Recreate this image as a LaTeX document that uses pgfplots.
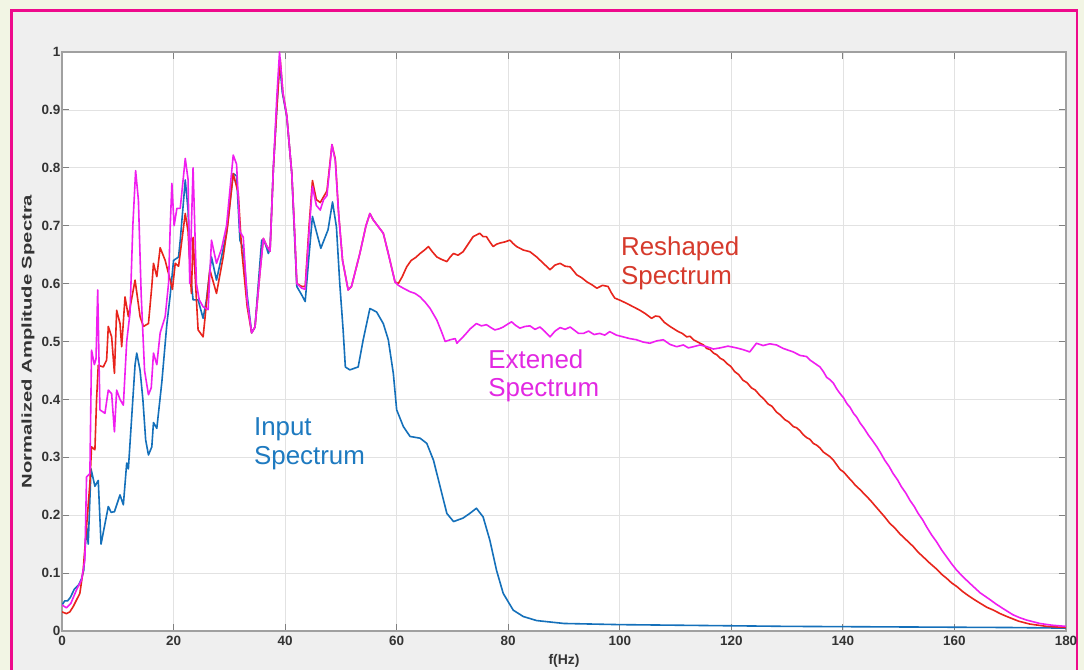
\documentclass[border=0pt]{standalone}
\usepackage{pgfplots}
\pgfplotsset{compat=1.18}
\usepackage{fontspec}
\setmainfont{Liberation Sans}
\newfontfamily\ylabfont[FakeStretch=1.45]{Liberation Sans}

\definecolor{pagecream}{HTML}{F2F5E4}
\definecolor{framepink}{HTML}{EE0A8C}
\definecolor{figgray}{HTML}{EFEFEF}
\definecolor{gridgray}{HTML}{E2E2E2}
\definecolor{axisgray}{HTML}{A0A0A0}
\definecolor{ticktext}{HTML}{333333}
\definecolor{inputblue}{RGB}{20,112,186}
\definecolor{reshapered}{RGB}{232,36,28}
\definecolor{extmag}{RGB}{240,30,240}
\definecolor{inputtxt}{RGB}{30,122,192}
\definecolor{reshapetxt}{RGB}{214,58,44}
\definecolor{exttxt}{RGB}{226,40,226}

\begin{document}
\begin{tikzpicture}
\useasboundingbox (0bp,0bp) rectangle (1084bp,670bp);
\fill[pagecream] (0bp,0bp) rectangle (1084bp,670bp);
\fill[figgray] (11.5bp,-5bp) rectangle (1077bp,659.5bp);
\draw[framepink, line width=2.2bp] (11.5bp,-5bp) rectangle (1077bp,659.5bp);

\begin{axis}[
  at={(62bp,39bp)}, anchor=south west,
  scale only axis, width=1004bp, height=579bp,
  xmin=0, xmax=180, ymin=0, ymax=1,
  xtick={0,20,40,60,80,100,120,140,160,180},
  xticklabels={0,20,40,60,80,100,120,140,160,180},
  ytick={0,0.1,0.2,0.3,0.4,0.5,0.6,0.7,0.8,0.9,1},
  yticklabels={0,0.1,0.2,0.3,0.4,0.5,0.6,0.7,0.8,0.9,1},
  tick align=inside, major tick length=7bp,
  grid=major, grid style={color=gridgray, line width=0.7bp},
  axis line style={color=axisgray, line width=1.4bp},
  tick style={color=axisgray!80!black, line width=0.9bp},
  axis background/.style={fill=white},
  ticklabel style={font=\fontsize{13.5}{15}\selectfont\bfseries, text=ticktext},
  yticklabel style={inner sep=1.5bp},
  xticklabel style={inner sep=1bp, yshift=-4bp},
  xlabel={f(Hz)},
  xlabel style={at={(axis description cs:0.5,-0.0518)}, anchor=center,
    font=\fontsize{14}{16}\selectfont\bfseries, text=ticktext},
  ylabel={Normalized Amplitude Spectra},
  ylabel style={at={(axis description cs:-0.0339,0.5)}, anchor=center,
    font=\ylabfont\fontsize{14}{16}\selectfont\bfseries, text=ticktext},
  clip=true,
]

% input spectrum
\addplot[inputblue, line width=1.6bp, line join=round] coordinates {
(0,0.045) (0.5,0.052) (1,0.052) (1.5,0.058) (2.2,0.072) (3,0.08) (3.5,0.09)
(3.9,0.105) (4.4,0.18) (4.7,0.15) (5.2,0.28) (5.9,0.25) (6.5,0.26) (7.0,0.15)
(7.6,0.18) (8.3,0.215) (8.8,0.205) (9.4,0.206) (10.4,0.235) (11.0,0.218)
(11.6,0.29) (11.9,0.28) (12.5,0.37) (13.1,0.46) (13.4,0.48) (14.0,0.45)
(14.5,0.40) (15.0,0.33) (15.5,0.304) (16.1,0.318) (16.4,0.36) (17.0,0.35)
(17.9,0.43) (18.8,0.53) (19.4,0.58) (20.0,0.64) (20.9,0.646) (21.2,0.675)
(22.1,0.779) (22.6,0.727) (23.0,0.62) (23.5,0.572) (24.4,0.572) (25.3,0.54)
(25.9,0.572) (26.8,0.646) (27.7,0.606) (28.6,0.646) (29.5,0.687) (30.7,0.79)
(31.3,0.786) (31.9,0.675) (32.5,0.66) (33.2,0.58) (34.0,0.515) (34.6,0.525)
(35.2,0.6) (35.8,0.675) (36.4,0.67) (37.0,0.652) (37.3,0.66) (37.9,0.80)
(38.5,0.90) (39.0,0.985) (39.5,0.93) (40.3,0.888) (41.2,0.79) (41.7,0.68)
(42.1,0.595) (43.0,0.58) (43.6,0.569) (44.3,0.65) (44.9,0.716) (45.6,0.69)
(46.4,0.661) (47.7,0.693) (48.5,0.741) (49.2,0.698) (49.8,0.60) (50.4,0.52)
(50.8,0.456) (51.6,0.451) (53.1,0.456) (54.0,0.503) (55.2,0.557) (56.4,0.551)
(57.6,0.531) (58.5,0.503) (59.4,0.445) (60.0,0.382) (61.2,0.353) (62.4,0.336)
(64.2,0.333) (65.4,0.324) (66.6,0.295) (67.8,0.249) (69.0,0.203) (70.2,0.189)
(71.9,0.195) (73.1,0.203) (74.3,0.212) (75.5,0.197) (76.7,0.157) (77.9,0.105)
(79.1,0.065) (80.9,0.036) (82.7,0.025) (85.1,0.018) (90,0.013) (100,0.011)
(110,0.010) (120,0.009) (130,0.008) (140,0.0075) (150,0.007) (160,0.0065)
(170,0.006) (180,0.005)
};

% reshaped spectrum
\addplot[reshapered, line width=1.6bp, line join=round] coordinates {
(0,0.033) (0.8,0.030) (1.4,0.033) (2.0,0.042) (3.2,0.065) (3.8,0.105) (4.4,0.18)
(5.0,0.255) (5.3,0.318) (5.9,0.313) (6.2,0.40) (6.5,0.459) (7.4,0.456)
(8.0,0.468) (8.3,0.526) (8.9,0.508) (9.4,0.445) (9.8,0.554) (10.4,0.531)
(10.7,0.491) (11.3,0.577) (11.9,0.543) (13.1,0.606) (14.0,0.543) (14.6,0.526)
(15.5,0.531) (16.1,0.595) (16.4,0.635) (17.0,0.612) (17.6,0.662) (18.5,0.64)
(19.4,0.606) (19.8,0.59) (20.3,0.635) (20.9,0.63) (22.1,0.721) (22.6,0.69)
(23.2,0.583) (23.5,0.68) (24.0,0.59) (24.4,0.52) (25.3,0.508) (26.5,0.624)
(27.7,0.583) (28.9,0.646) (29.7,0.70) (30.7,0.79) (31.6,0.756) (32.2,0.66)
(33.2,0.56) (34.0,0.515) (34.6,0.525) (35.5,0.62) (36.1,0.678) (36.7,0.665)
(37.3,0.656) (37.9,0.80) (38.5,0.90) (39.1,0.99) (39.6,0.93) (40.3,0.89)
(41.2,0.79) (41.7,0.69) (42.1,0.60) (43.0,0.595) (43.6,0.595) (44.3,0.70)
(44.9,0.778) (45.6,0.745) (46.3,0.74) (46.9,0.75) (47.5,0.76) (48.4,0.84)
(49.0,0.815) (49.6,0.72) (50.3,0.64) (51.3,0.589) (51.9,0.595) (53.4,0.652)
(54.5,0.70) (55.2,0.721) (55.8,0.71) (57.6,0.687) (58.5,0.652) (59.7,0.603)
(60.3,0.600) (61.0,0.612) (61.8,0.629) (62.6,0.64) (63.4,0.645) (64.2,0.652)
(65.0,0.658) (65.7,0.664) (66.4,0.655) (67.2,0.646) (68.0,0.642) (69.0,0.638)
(69.6,0.646) (70.2,0.652) (71.0,0.649) (71.9,0.655) (72.8,0.668) (73.7,0.681)
(74.3,0.684) (74.9,0.687) (75.5,0.681) (76.1,0.681) (76.7,0.672) (77.3,0.664)
(77.9,0.668) (78.5,0.67) (79.4,0.672) (80.3,0.675) (80.9,0.669) (81.5,0.664)
(82.7,0.658) (83.9,0.655) (85.1,0.646) (86.3,0.635) (87.5,0.624) (88.4,0.632)
(89.3,0.635) (90.2,0.630) (91.1,0.629) (92.3,0.615) (93.2,0.610) (94.1,0.603)
(95.0,0.598) (95.9,0.592) (96.9,0.597) (97.9,0.595) (98.5,0.584) (99.1,0.575)
(100.1,0.571) (101.2,0.566) (102.4,0.560) (103.6,0.554) (104.6,0.548)
(105.7,0.540) (106.4,0.544) (107.1,0.543) (108.0,0.533) (109.0,0.526)
(110.5,0.517) (111.2,0.514) (112.0,0.508) (112.6,0.509) (113.2,0.503)
(114.4,0.497) (115.0,0.494) (115.6,0.488) (116.2,0.486) (116.8,0.480)
(117.4,0.477) (118.0,0.471) (118.6,0.468) (119.2,0.462) (119.9,0.457)
(120.6,0.448) (121.3,0.443) (122.1,0.433) (122.8,0.429) (123.6,0.420)
(124.3,0.416) (125.1,0.407) (125.8,0.401) (126.6,0.392) (127.3,0.388)
(128.1,0.378) (128.8,0.373) (129.6,0.365) (130.3,0.361) (131.1,0.353)
(131.7,0.351) (132.3,0.346) (132.9,0.339) (133.5,0.334) (134.1,0.331)
(134.7,0.324) (135.3,0.321) (135.9,0.316) (136.5,0.309) (137.1,0.305)
(137.7,0.301) (138.3,0.295) (138.9,0.287) (139.5,0.279) (140.2,0.274)
(141.0,0.265) (141.6,0.259) (142.2,0.252) (143.1,0.244) (144.0,0.235)
(144.9,0.226) (145.7,0.217) (146.6,0.207) (147.5,0.197) (148.4,0.186)
(149.3,0.178) (150.2,0.168) (151.4,0.157) (152.6,0.146) (153.5,0.136)
(154.4,0.128) (155.6,0.117) (156.8,0.107) (157.7,0.098) (158.6,0.091)
(159.5,0.083) (160.4,0.077) (161.5,0.068) (162.5,0.061) (163.6,0.054)
(164.6,0.048) (165.8,0.041) (167.0,0.036) (168.2,0.030) (169.4,0.025)
(171.5,0.017) (173.5,0.012) (176.5,0.008) (180,0.006)
};

% extended spectrum
\addplot[extmag, line width=1.6bp, line join=round] coordinates {
(0,0.045) (0.8,0.040) (1.6,0.048) (2.6,0.071) (3.5,0.088) (4.1,0.123)
(4.4,0.266) (5.0,0.272) (5.3,0.485) (5.8,0.46) (6.1,0.47) (6.4,0.589)
(6.8,0.382) (7.7,0.376) (8.3,0.416) (8.9,0.41) (9.4,0.344) (9.8,0.416)
(10.4,0.40) (11.0,0.39) (11.6,0.50) (12.2,0.55) (12.7,0.70) (13.2,0.795)
(13.7,0.744) (14.2,0.58) (14.8,0.45) (15.5,0.408) (16.0,0.42) (16.4,0.48)
(17.0,0.46) (17.6,0.515) (18.5,0.543) (19.1,0.60) (19.4,0.698) (19.7,0.773)
(20.1,0.70) (20.6,0.73) (21.2,0.73) (22.1,0.816) (22.6,0.78) (22.9,0.60)
(23.5,0.80) (24.1,0.60) (24.6,0.572) (25.3,0.56) (26.2,0.555) (26.8,0.675)
(27.7,0.635) (28.6,0.66) (29.5,0.70) (30.7,0.822) (31.3,0.806) (31.9,0.69)
(32.5,0.68) (33.2,0.57) (34.0,0.515) (34.6,0.525) (35.5,0.62) (36.1,0.678)
(36.7,0.665) (37.3,0.656) (37.9,0.80) (38.5,0.92) (39.0,1.0) (39.6,0.93)
(40.3,0.89) (41.2,0.79) (41.7,0.69) (42.1,0.60) (43.0,0.592) (43.6,0.590)
(44.3,0.69) (44.9,0.768) (45.6,0.735) (46.3,0.727) (46.9,0.745) (47.5,0.752)
(48.4,0.84) (49.0,0.812) (49.6,0.72) (50.3,0.64) (51.3,0.589) (51.9,0.595)
(53.4,0.652) (54.5,0.70) (55.2,0.721) (55.8,0.71) (57.6,0.687) (58.5,0.652)
(59.7,0.603) (60.3,0.597) (61.2,0.592) (62.4,0.586) (63.3,0.583) (64.2,0.577)
(65.1,0.568) (66.0,0.557) (67.2,0.537) (68.0,0.518) (68.7,0.500) (69.6,0.503)
(70.5,0.505) (70.8,0.497) (71.5,0.504) (72.2,0.511) (73.2,0.522) (74.3,0.531)
(75.2,0.527) (76.1,0.529) (76.9,0.524) (77.6,0.520) (78.4,0.522) (79.1,0.525)
(79.9,0.530) (80.6,0.534) (81.3,0.528) (82.1,0.523) (83.0,0.526) (83.9,0.527)
(84.8,0.521) (85.7,0.525) (86.6,0.517) (87.5,0.508) (88.4,0.518) (89.3,0.524)
(90.2,0.521) (91.1,0.525) (91.8,0.520) (92.6,0.514) (93.5,0.514) (94.4,0.518)
(95.4,0.512) (96.4,0.514) (97.3,0.511) (98.2,0.517) (99.4,0.511) (100.6,0.508)
(101.8,0.505) (103.0,0.503) (104.2,0.499) (105.4,0.497) (106.6,0.501)
(107.8,0.503) (109.0,0.495) (110.2,0.491) (111.4,0.494) (112.3,0.489)
(113.2,0.491) (114.4,0.494) (115.6,0.491) (116.8,0.487) (118.0,0.489)
(119.4,0.492) (120.9,0.489) (122.1,0.486) (123.3,0.482) (124.5,0.497)
(125.7,0.493) (126.9,0.496) (128.1,0.494) (129.3,0.488) (130.2,0.485)
(131.1,0.482) (132.3,0.476) (133.5,0.474) (134.1,0.468) (135.0,0.462)
(135.9,0.456) (136.5,0.448) (137.1,0.438) (137.7,0.434) (138.3,0.428)
(138.9,0.418) (139.5,0.410) (140.1,0.403) (140.7,0.393) (141.3,0.386)
(141.9,0.376) (142.5,0.369) (143.1,0.359) (143.8,0.350) (144.6,0.338)
(145.3,0.329) (146.1,0.318) (146.8,0.307) (147.5,0.295) (148.3,0.284)
(149.0,0.272) (149.8,0.261) (150.5,0.249) (151.3,0.238) (152.0,0.226)
(152.8,0.215) (153.5,0.203) (154.3,0.192) (155.0,0.180) (155.9,0.166)
(156.8,0.154) (157.7,0.140) (158.6,0.128) (159.5,0.116) (160.4,0.105)
(161.6,0.093) (162.8,0.082) (163.7,0.074) (164.6,0.066) (165.5,0.060)
(166.4,0.054) (167.4,0.047) (168.5,0.040) (169.5,0.034) (170.5,0.028)
(171.7,0.023) (172.9,0.019) (175.3,0.013) (177.5,0.010) (180,0.008)
};

% curve annotations
\node[anchor=base west, inner sep=0pt, text=reshapetxt, font=\fontsize{26}{30}\selectfont]
  at (axis cs:100.2,0.649) {Reshaped};
\node[anchor=base west, inner sep=0pt, text=reshapetxt, font=\fontsize{26}{30}\selectfont]
  at (axis cs:100.2,0.598) {Spectrum};
\node[anchor=base west, inner sep=0pt, text=exttxt, font=\fontsize{26}{30}\selectfont]
  at (axis cs:76.4,0.454) {Extened};
\node[anchor=base west, inner sep=0pt, text=exttxt, font=\fontsize{26}{30}\selectfont]
  at (axis cs:76.4,0.405) {Spectrum};
\node[anchor=base west, inner sep=0pt, text=inputtxt, font=\fontsize{26}{30}\selectfont]
  at (axis cs:34.4,0.3385) {Input};
\node[anchor=base west, inner sep=0pt, text=inputtxt, font=\fontsize{26}{30}\selectfont]
  at (axis cs:34.4,0.288) {Spectrum};
\end{axis}
\end{tikzpicture}
\end{document}
